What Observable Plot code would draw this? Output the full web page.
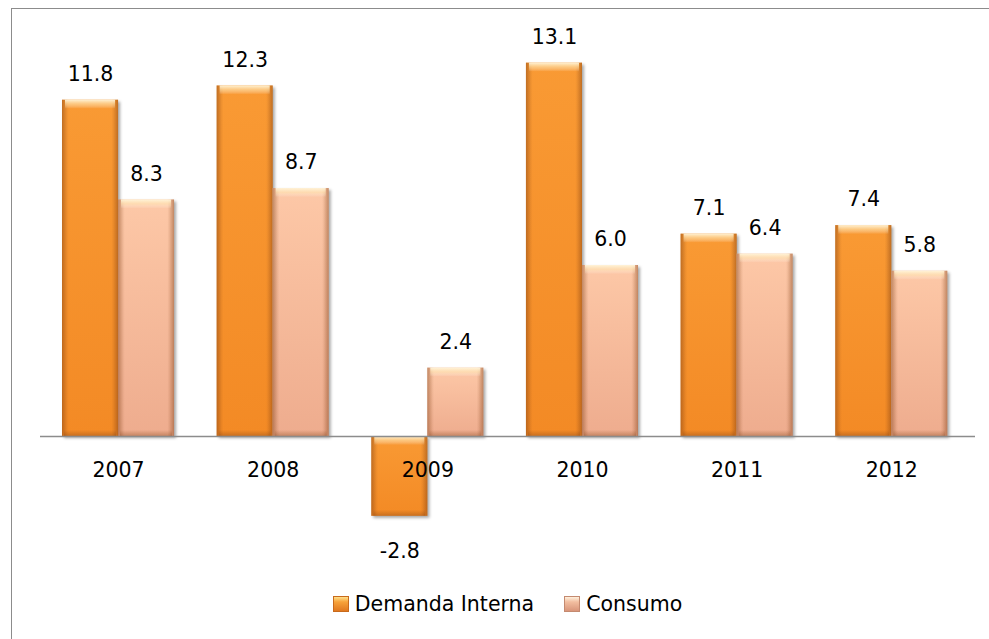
<!DOCTYPE html>
<html>
<head>
<meta charset="utf-8">
<script src="https://cdn.jsdelivr.net/npm/d3@7"></script>
<script src="https://cdn.jsdelivr.net/npm/@observablehq/plot@0.6"></script>
<style>
  html, body { margin: 0; padding: 0; background: #fff; }
  #wrap { position: relative; width: 989px; height: 639px; overflow: hidden; font-family: "DejaVu Sans", sans-serif; }
  #frame { position: absolute; left: 11px; top: 8px; right: -5px; bottom: -5px; border-left: 1.5px solid #8c8c8c; border-top: 1.5px solid #8c8c8c; }
  #chart { position: absolute; left: 0; top: 0; }
  .barbase { filter: drop-shadow(2px 2px 1.5px rgba(0,0,0,0.35)); }
  #legend { position: absolute; top: 590px; left: 40px; width: 935px; height: 28px; display: flex; justify-content: center; align-items: center; font-size: 20.5px; color: #000; }
  .item { display: flex; align-items: center; margin: 0 15px; }
  .sw { width: 16px; height: 16px; margin-right: 6px; box-sizing: border-box; }
</style>
</head>
<body>
<svg width="0" height="0" style="position:absolute">
  <defs>
    <linearGradient id="gOrange" x1="0" y1="0" x2="0" y2="1">
      <stop offset="0" stop-color="#f99a34"/>
      <stop offset="1" stop-color="#f38a25"/>
    </linearGradient>
    <linearGradient id="gPeach" x1="0" y1="0" x2="0" y2="1">
      <stop offset="0" stop-color="#fdc8a7"/>
      <stop offset="1" stop-color="#eeac8e"/>
    </linearGradient>
    <linearGradient id="gSide" x1="0" y1="0" x2="1" y2="0">
      <stop offset="0" stop-color="#7a3a10" stop-opacity="0.45"/>
      <stop offset="0.09" stop-color="#7a3a10" stop-opacity="0.08"/>
      <stop offset="0.12" stop-color="#7a3a10" stop-opacity="0"/>
      <stop offset="0.88" stop-color="#7a3a10" stop-opacity="0"/>
      <stop offset="0.91" stop-color="#7a3a10" stop-opacity="0.08"/>
      <stop offset="1" stop-color="#7a3a10" stop-opacity="0.45"/>
    </linearGradient>
    <linearGradient id="gTop" x1="0" y1="0" x2="0" y2="1">
      <stop offset="0" stop-color="#fff6dc" stop-opacity="0.95"/>
      <stop offset="0.5" stop-color="#ffe9b8" stop-opacity="0.55"/>
      <stop offset="1" stop-color="#ffffff" stop-opacity="0"/>
    </linearGradient>
    <linearGradient id="gBottom" x1="0" y1="0" x2="0" y2="1">
      <stop offset="0" stop-color="#7a3a10" stop-opacity="0"/>
      <stop offset="1" stop-color="#7a3a10" stop-opacity="0.35"/>
    </linearGradient>
  </defs>
</svg>
<div id="wrap">
  <div id="frame"></div>
  <div id="chart"></div>
  <div id="legend"></div>
</div>
<script>
const years = ["2007", "2008", "2009", "2010", "2011", "2012"];
const series = ["Demanda Interna", "Consumo"];
const demanda = [11.8, 12.3, -2.8, 13.1, 7.1, 7.4];
const consumo = [8.3, 8.7, 2.4, 6.0, 6.4, 5.8];

const fills = ["url(#gOrange)", "url(#gPeach)"];
const offsets = [-28, 28];

const rows = years.flatMap((yr, i) => [
  {year: yr, series: series[0], value: demanda[i]},
  {year: yr, series: series[1], value: consumo[i]}
]);

const FONT = "DejaVu Sans";
const FS = 20.5;
const marks = [];
series.forEach((s, k) => {
  const d = rows.filter(r => r.series === s);
  marks.push(Plot.barY(d, {x: "year", y1: 0, y2: "value", dx: offsets[k], fill: fills[k], className: "barbase"}));
  marks.push(Plot.barY(d, {x: "year", y1: 0, y2: "value", dx: offsets[k], fill: "url(#gSide)"}));
  marks.push(Plot.barY(d, {x: "year", y1: r => Math.max(r.value, 0), y2: r => Math.max(r.value, 0), insetBottom: -9, insetLeft: 3, insetRight: 3, dx: offsets[k], fill: "url(#gTop)"}));
  marks.push(Plot.barY(d, {x: "year", y1: r => Math.min(r.value, 0), y2: r => Math.min(r.value, 0), insetTop: -6, insetLeft: 2, insetRight: 2, dx: offsets[k], fill: "url(#gBottom)"}));
});
marks.push(Plot.ruleY([0], {stroke: "#8c8c8c", strokeWidth: 1.5}));
series.forEach((s, k) => {
  const d = rows.filter(r => r.series === s);
  marks.push(Plot.text(d.filter(r => r.value >= 0), {x: "year", y: "value", dx: offsets[k], dy: -26, text: r => r.value.toFixed(1), fontSize: FS, fontFamily: FONT, fill: "#000"}));
  marks.push(Plot.text(d.filter(r => r.value < 0), {x: "year", y: "value", dx: offsets[k], dy: 35, text: r => r.value.toFixed(1), fontSize: FS, fontFamily: FONT, fill: "#000"}));
});
marks.push(Plot.text(years, {x: d => d, y: () => 0, dy: 34, text: d => d, fontSize: FS, fontFamily: FONT, fill: "#000"}));

const chart = Plot.plot({
  width: 989,
  height: 590,
  marginLeft: 40,
  marginRight: 14,
  marginTop: 8,
  marginBottom: 11,
  style: {background: "transparent", fontFamily: FONT},
  x: {domain: years, range: [40.7, 968.6], paddingInner: 0.6375, paddingOuter: 0.31875, round: false, axis: null},
  y: {domain: [-5, 15], range: [578.5, 8.5], axis: null},
  marks
});
document.getElementById("chart").appendChild(chart);

const legend = document.getElementById("legend");
const swatchBg = [
  "linear-gradient(180deg, #ffe08a 0%, #f7a23a 35%, #e0781f 100%)",
  "linear-gradient(180deg, #fff0dc 0%, #f2bea0 35%, #d9957a 100%)"
];
const swatchBorder = ["#c86a1c", "#c48a70"];
series.forEach((s, k) => {
  const it = document.createElement("div");
  it.className = "item";
  const sw = document.createElement("div");
  sw.className = "sw";
  sw.style.background = swatchBg[k];
  sw.style.border = "1px solid " + swatchBorder[k];
  const tx = document.createElement("span");
  tx.textContent = s;
  it.appendChild(sw);
  it.appendChild(tx);
  legend.appendChild(it);
});
</script>
</body>
</html>
